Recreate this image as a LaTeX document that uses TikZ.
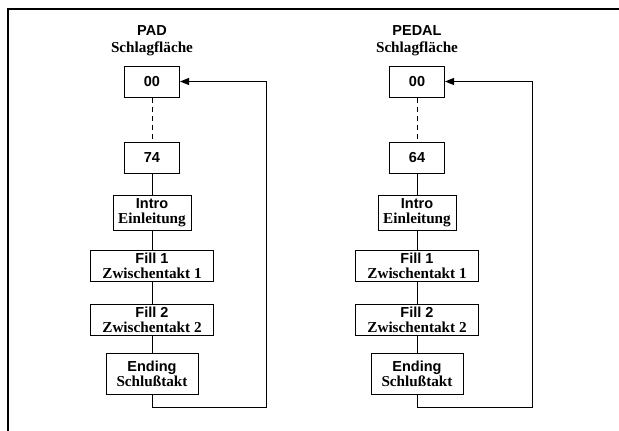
\documentclass[tikz,border=0pt]{standalone}
\usepackage{fontspec}
\setmainfont{Liberation Serif}
\setsansfont{Liberation Sans}
\usetikzlibrary{arrows.meta,positioning}
\tikzset{
  >={Triangle[length=9pt,width=7pt]},
  stage/.style={
    draw, rectangle, align=center, inner sep=0pt, line width=1pt,
    minimum height=31pt, font=\bfseries\fontsize{15.2}{15}\selectfont
  },
  num/.style={stage, minimum width=55pt, font=\sffamily\bfseries\fontsize{14.5}{15}\selectfont},
  head/.style={align=center, inner sep=0pt, font=\bfseries\fontsize{15.2}{17}\selectfont},
  link/.style={line width=1pt},
}
\newcommand{\sfline}[1]{{\sffamily\bfseries\fontsize{14.5}{15}\selectfont #1}}
\newcommand{\twoline}[2]{\sfline{#1}\\#2}

\begin{document}
\begin{tikzpicture}[x=1pt, y=-1pt]
  \useasboundingbox (0,0) rectangle (619,431);
  \draw[line width=1.2pt] (619,9) -- (8,9) -- (8,431);
  \foreach \col/\cx/\rx/\head/\num in {L/152/266/PAD/74, R/417/532/PEDAL/64} {
    \node[num] (zero\col) at (\cx,81.5) {00};
    \node[head, above=9pt of zero\col] (head\col) {\sfline{\head}\\Schlagfläche};
    \node[num, below=44pt of zero\col] (pick\col) {\num};
    \node[stage, minimum width=78pt, minimum height=35pt, below=21pt of pick\col] (intro\col) {\twoline{Intro}{Einleitung}};
    \node[stage, minimum width=123pt, below=19pt of intro\col] (fillA\col) {\twoline{Fill 1}{Zwischentakt 1}};
    \node[stage, minimum width=123pt, below=22pt of fillA\col] (fillB\col) {\twoline{Fill 2}{Zwischentakt 2}};
    \node[stage, minimum width=92pt, minimum height=41pt, below=17pt of fillB\col] (end\col) {\twoline{Ending}{Schlußtakt}};
    \coordinate (turn\col) at (\rx,407);
    \draw[link, dash pattern=on 5pt off 4pt] (zero\col) -- (pick\col);
    \draw[link] (pick\col) -- (intro\col) -- (fillA\col) -- (fillB\col) -- (end\col);
    \draw[link, ->] (end\col) |- (turn\col) |- (zero\col.east);
  }
\end{tikzpicture}
\end{document}
